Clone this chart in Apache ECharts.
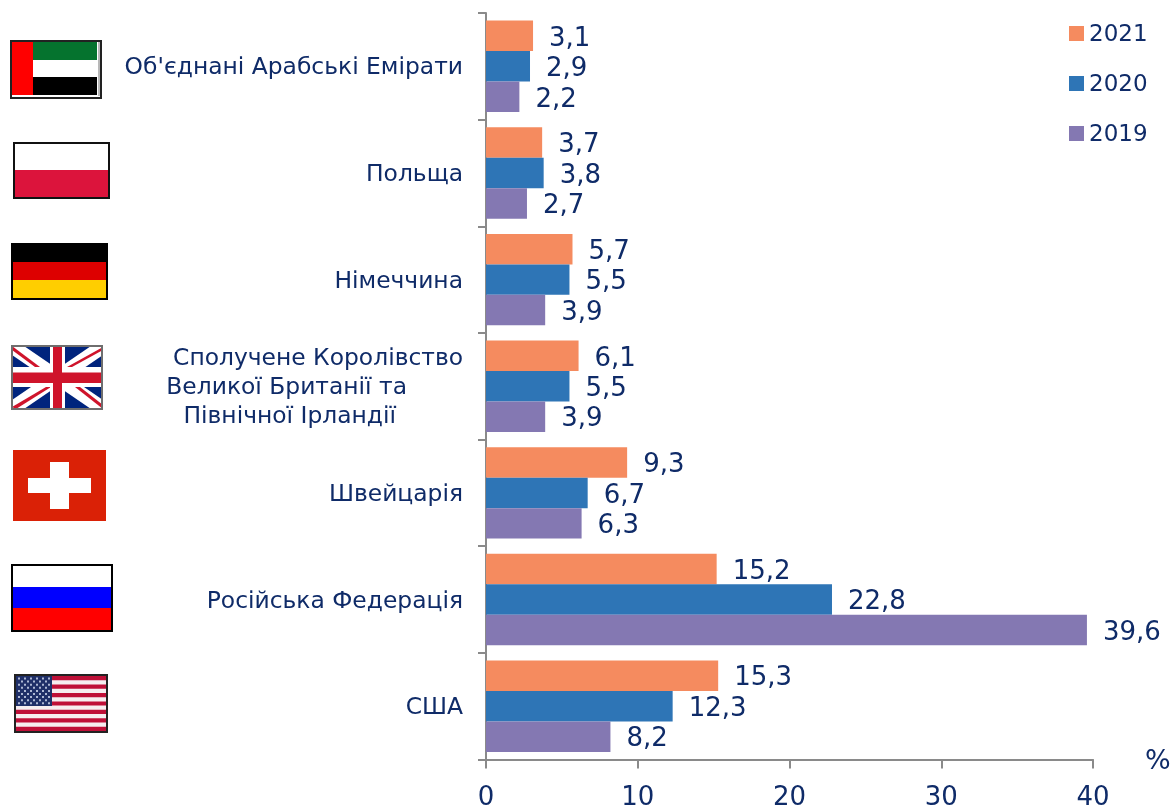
<!DOCTYPE html>
<html>
<head>
<meta charset="utf-8">
<title>Chart</title>
<style>
  html, body { margin: 0; padding: 0; background: #fff; }
  #chart { width: 1174px; height: 808px; }
</style>
<script src="https://cdn.jsdelivr.net/npm/echarts@6/dist/echarts.min.js"></script>
</head>
<body>
<div id="chart"></div>
<script>
const categories = [
  "Об'єднані Арабські Емірати",
  "Польща",
  "Німеччина",
  "Сполучене Королівство\nВеликої Британії та\nПівнічної Ірландії",
  "Швейцарія",
  "Російська Федерація",
  "США"
];
const values2021 = [3.1, 3.7, 5.7, 6.1, 9.3, 15.2, 15.3];
const values2020 = [2.9, 3.8, 5.5, 5.5, 6.7, 22.8, 12.3];
const values2019 = [2.2, 2.7, 3.9, 3.9, 6.3, 39.6, 8.2];

const TEXT_COLOR = "#0f2b68";
const AXIS_COLOR = "#8a8a8a";
const FONT = "'DejaVu Sans'";

function comma(v) {
    return String(v).replace(".", ",");
}

function barSeries(name, data, color) {
    return {
        name: name,
        type: "bar",
        data: data,
        barGap: 0,
        barCategoryGap: "14.3%",
        itemStyle: {color: color},
        label: {
            show: true,
            position: "right",
            distance: 16,
            offset: [0, 3],
            color: TEXT_COLOR,
            fontFamily: FONT,
            fontSize: 26,
            formatter: p => comma(p.value)
        }
    };
}

// flags are plain decoration next to the axis, drawn with graphic shapes
function rect(x, y, w, h, fill) {
    return {type: "rect", shape: {x, y, width: w, height: h}, style: {fill}, silent: true};
}

function frame(x, y, w, h, stroke, lw) {
    const o = lw / 2;
    return {
        type: "rect",
        shape: {x: x + o, y: y + o, width: w - lw, height: h - lw},
        style: {fill: "none", stroke, lineWidth: lw},
        silent: true
    };
}

function poly(points, fill) {
    return {type: "polygon", shape: {points}, style: {fill}, silent: true};
}

function uaeFlag() {
    return [
        rect(12, 42, 88, 54, "#ffffff"),
        rect(33, 42, 64, 18, "#05732e"),
        rect(33, 77, 64, 18, "#000000"),
        rect(12, 42, 21, 53, "#ff0000"),
        rect(98, 42, 2, 54, "#b8b8b8"),
        frame(10, 40, 92, 59, "#222222", 2)
    ];
}

function polandFlag() {
    return [
        rect(14, 143, 95, 27, "#ffffff"),
        rect(14, 170, 95, 28, "#dc143c"),
        frame(13, 142, 97, 57, "#111111", 2)
    ];
}

function germanyFlag() {
    return [
        rect(11, 243, 97, 20, "#000000"),
        rect(12, 262, 95, 18, "#dd0000"),
        rect(12, 280, 95, 18, "#ffce00"),
        frame(11, 243, 97, 57, "#000000", 2)
    ];
}

function ukFlag() {
    const x0 = 12, y0 = 346, x1 = 103, y1 = 409;
    const d = 12, e = 9;
    const red = "#cf142b";
    return [
        rect(x0, y0, x1 - x0, y1 - y0, "#00247d"),
        poly([[x0, y0], [x0 + d, y0], [x1, y1 - e], [x1, y1], [x1 - d, y1], [x0, y0 + e]], "#ffffff"),
        poly([[x1, y0], [x1 - d, y0], [x0, y1 - e], [x0, y1], [x0 + d, y1], [x1, y0 + e]], "#ffffff"),
        poly([[x0, y0], [x0, y0 + 4], [35, 367], [40, 367]], red),
        poly([[x1, y1], [x1, y1 - 4], [80, 387], [75, 387]], red),
        poly([[x1, y0 + 1], [x1, y0 + 4], [72, 367], [67, 367]], red),
        poly([[x0, y1 - 2], [x0 + 4, y1], [51, 387], [46, 387]], red),
        rect(50, y0, 15, y1 - y0, "#ffffff"),
        rect(x0, 367, x1 - x0, 20, "#ffffff"),
        rect(53, y0, 9, y1 - y0, red),
        rect(x0, 372.5, x1 - x0, 10.5, red),
        frame(11, 345, 92, 65, "#6e6e6e", 2)
    ];
}

function swissFlag() {
    return [
        rect(13, 450, 93, 71, "#da2106"),
        rect(50, 462, 19, 47, "#ffffff"),
        rect(28, 478, 63, 15, "#ffffff")
    ];
}

function russiaFlag() {
    return [
        rect(12, 565, 100, 22, "#ffffff"),
        rect(12, 587, 100, 21, "#0000ff"),
        rect(12, 608, 100, 23, "#ff0000"),
        frame(11, 564, 102, 68, "#000000", 2)
    ];
}

function usaFlag() {
    const out = [rect(15, 675, 92, 57, "#f6eef0")];
    const h = 55 / 13;
    for (let i = 0; i < 13; i += 2) {
        out.push(rect(16, 676 + i * h, 90, h, "#bf1038"));
    }
    out.push(rect(16, 676, 36, 30, "#1f2f68"));
    for (let row = 0; row < 9; row++) {
        const n = row % 2 ? 5 : 6;
        for (let col = 0; col < n; col++) {
            const sx = 18 + col * 6 + (row % 2 ? 3 : 0);
            out.push(rect(sx, 677.5 + row * 3.1, 2, 2, "#aeb8d4"));
        }
    }
    out.push(frame(14, 674, 94, 59, "#222222", 2));
    return out;
}

const flagShapes = [].concat(
    uaeFlag(), polandFlag(), germanyFlag(), ukFlag(), swissFlag(), russiaFlag(), usaFlag()
);

const chart = echarts.init(document.getElementById("chart"), null, {renderer: "canvas"});

chart.setOption({
    animation: false,
    backgroundColor: "#ffffff",
    grid: {left: 486, top: 13, width: 607, height: 746.5, containLabel: false, outerBoundsMode: "none"},
    legend: {
        left: 1064,
        top: 19,
        orient: "vertical",
        icon: "rect",
        itemWidth: 15,
        itemHeight: 15,
        itemGap: 27,
        selectedMode: false,
        formatter: "{t|{name}}",
        textStyle: {
            color: TEXT_COLOR,
            fontFamily: FONT,
            fontSize: 23,
            rich: {t: {color: TEXT_COLOR, fontFamily: FONT, fontSize: 23, padding: [4, 0, 0, 0]}}
        },
        data: ["2021", "2020", "2019"]
    },
    xAxis: {
        type: "value",
        min: 0,
        max: 40,
        interval: 10,
        name: "{p|%}",
        nameLocation: "end",
        nameGap: 52,
        nameTextStyle: {
            color: TEXT_COLOR,
            fontFamily: FONT,
            fontSize: 27,
            rich: {p: {color: TEXT_COLOR, fontFamily: FONT, fontSize: 27, padding: [4, 0, 0, 0]}}
        },
        splitLine: {show: false},
        axisLine: {show: true, lineStyle: {color: AXIS_COLOR, width: 2}},
        axisTick: {show: true, length: 9, lineStyle: {color: AXIS_COLOR, width: 2}},
        axisLabel: {color: TEXT_COLOR, fontFamily: FONT, fontSize: 26, margin: 26, hideOverlap: false}
    },
    yAxis: {
        type: "category",
        inverse: true,
        data: categories,
        axisLine: {show: true, onZero: false, lineStyle: {color: AXIS_COLOR, width: 2}},
        axisTick: {show: true, length: 8, lineStyle: {color: AXIS_COLOR, width: 2}},
        axisLabel: {
            color: TEXT_COLOR,
            fontFamily: FONT,
            fontSize: 23.4,
            margin: 23,
            interval: 0,
            lineHeight: 29,
            padding: [4, 0, 0, 0],
            formatter: function (v) {
                if (v.indexOf("\n") < 0) return v;
                const lines = v.split("\n");
                return `{a|${lines[0]}}\n{b|${lines[1]}}\n{c|${lines[2]}}`;
            },
            rich: {
                a: {fontFamily: FONT, fontSize: 23.4, color: TEXT_COLOR, lineHeight: 29},
                b: {fontFamily: FONT, fontSize: 23.4, color: TEXT_COLOR, lineHeight: 29, padding: [0, 56, 0, 0]},
                c: {fontFamily: FONT, fontSize: 23.4, color: TEXT_COLOR, lineHeight: 29, padding: [0, 67, 0, 0]}
            }
        }
    },
    series: [
        barSeries("2021", values2021, "#f58b5f"),
        barSeries("2020", values2020, "#2e75b6"),
        barSeries("2019", values2019, "#8478b2")
    ],
    graphic: {elements: flagShapes}
});
</script>
</body>
</html>
